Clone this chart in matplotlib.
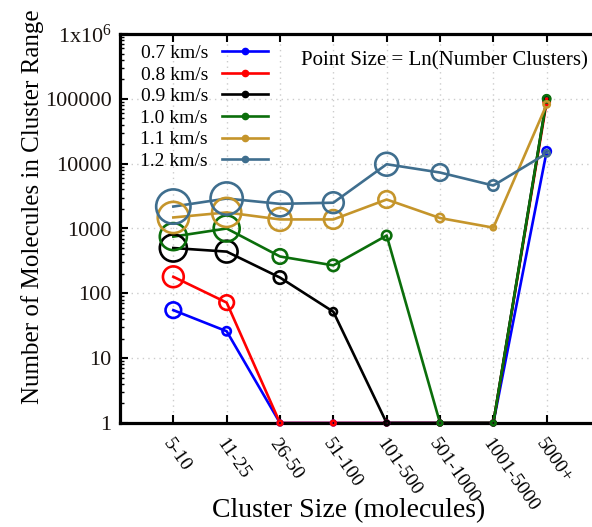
import numpy as np
import matplotlib
matplotlib.use("Agg")
import matplotlib.pyplot as plt
from matplotlib.lines import Line2D

plt.rcParams['font.family'] = ['Liberation Serif', 'DejaVu Serif']
plt.rcParams['mathtext.fontset'] = 'custom'
plt.rcParams['mathtext.rm'] = 'Liberation Serif'
plt.rcParams['mathtext.default'] = 'regular'

# cluster size bins
categories = ['5-10', '11-25', '26-50', '51-100', '101-500', '501-1000', '1001-5000', '5000+']

# number of molecules in each cluster range (1 = none)
v07 = [55, 26, 1, 1, 1, 1, 1, 15500]
v08 = [180, 72, 1, 1, 1, 1, 1, 90000]
v09 = [500, 440, 175, 52, 1, 1, 1, 100000]
v10 = [750, 1000, 370, 270, 780, 1, 1, 100000]
v11 = [1480, 1770, 1380, 1380, 2800, 1450, 1030, 82000]
v12 = [2180, 2900, 2400, 2500, 9800, 7300, 4600, 14400]

# ln(number of clusters) -> point size
ln07 = [3.0, 1.6, 0, 0, 0, 0, 0, 1.6]
ln08 = [4.0, 2.8, 0, 0, 0, 0, 0, 1.2]
ln09 = [5.2, 4.2, 2.4, 1.4, 0, 0, 0, 1.2]
ln10 = [5.2, 5.0, 2.8, 2.2, 1.8, 0, 0, 1.4]
ln11 = [6.0, 5.6, 4.4, 3.6, 3.2, 1.6, 1.0, 1.2]
ln12 = [6.6, 6.2, 4.8, 4.0, 4.4, 3.2, 2.0, 1.2]

labels = ['0.7 km/s', '0.8 km/s', '0.9 km/s', '1.0 km/s', '1.1 km/s', '1.2 km/s']
colors = ['#0000ff', '#ff0000', '#000000', '#0b6e0b', '#c5952b', '#3f6e8e']
series = [v07, v08, v09, v10, v11, v12]
sizes = [ln07, ln08, ln09, ln10, ln11, ln12]

fig = plt.figure(figsize=(5.92, 5.27), dpi=100)
ax = fig.add_axes([120/592, 104/527, 480/592, 389/527])

x = np.arange(len(categories))
handles = []
for vals, lns, col, lab in zip(series, sizes, colors, labels):
    ax.plot(x, vals, color=col, lw=1.9, zorder=3)
    r_px = np.maximum(2.6*np.array(lns), 2.3)
    d_pt = 2*r_px*0.72
    ax.scatter(x, vals, s=d_pt**2, facecolors='none', edgecolors=col,
               linewidths=1.9, zorder=6, clip_on=False)
    handles.append(Line2D([], [], color=col, lw=1.9, marker='o', ms=4.5))

ax.set_yscale('log')
ax.set_ylim(1, 1e6)
ax.set_xlim(-1, 8)
ax.set_yticks([1, 10, 100, 1000, 10000, 100000, 1e6])
ax.set_yticklabels(['1', '10', '100', '1000', '10000', '100000', '1x10$^{6}$'],
                   fontsize=16, color='#1a1410')
ax.set_xticks(x)
ax.set_xticklabels(categories, rotation=-55, ha='left', va='top',
                   rotation_mode='anchor', fontsize=14)
ax.tick_params(axis='both', which='both', direction='in', top=True, right=False)
ax.tick_params(axis='x', which='major', length=6, width=1.5, pad=9)
ax.tick_params(axis='y', which='major', length=6, width=1.5, pad=6)
ax.tick_params(axis='y', which='minor', length=3, width=1)
ax.tick_params(axis='x', which='minor', top=False, bottom=False)
for s in ['left', 'bottom', 'top']:
    ax.spines[s].set_linewidth(2.3)
    ax.spines[s].set_zorder(5)
ax.spines['right'].set_visible(False)
ax.grid(True, which='major', color='#cccccc', ls=(0, (1, 3)), lw=1)

ax.set_xlabel('Cluster Size (molecules)', fontsize=20)
ax.xaxis.set_label_coords(0.477, -0.226)
ax.xaxis.label.set_va('center')
ax.set_ylabel('Number of Molecules in Cluster Range', fontsize=18)
ax.yaxis.set_label_coords(-0.182, 0.555)
ax.yaxis.label.set_va('center')

ax.legend(handles, labels, loc='upper left', bbox_to_anchor=(0.02, 1.0),
          frameon=False, markerfirst=False, fontsize=14, handlelength=2.4,
          labelspacing=0.2, handletextpad=0.7, borderaxespad=0.15)
ax.text(0.975, 0.955, 'Point Size = Ln(Number Clusters)', transform=ax.transAxes,
        fontsize=15, ha='right', va='top')

fig.savefig('out.png', dpi=100)
